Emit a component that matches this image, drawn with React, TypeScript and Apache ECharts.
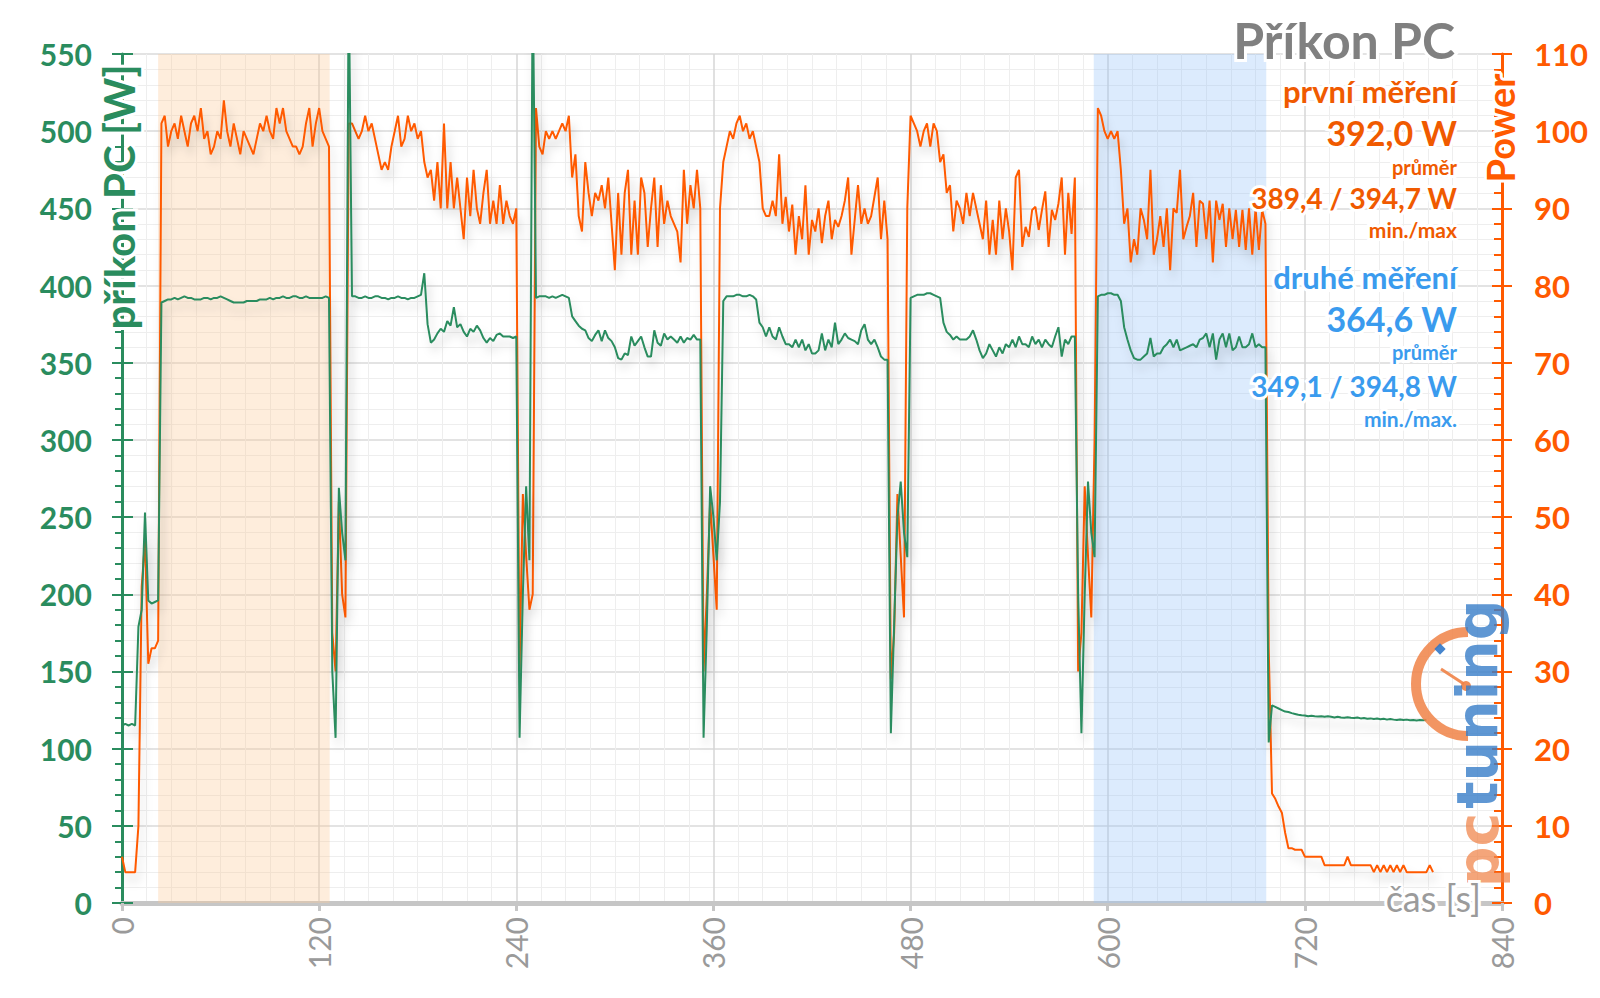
import React, { useEffect, useRef } from "react";
import * as echarts from "echarts";

// sample spacing of the measurement, seconds
const STEP = 2;

// ---- orange series: "Power" (right axis, %) ----
const orangeA = [6, 4, 4, 4, 4, 10, 41, 47, 31, 33, 33, 34];
const orangeB = [101, 102, 98, 100, 101, 99, 102, 100, 98, 101, 102, 100, 103, 99, 100, 97, 98, 100, 99, 104, 100, 98, 101, 99, 97, 100, 99, 98, 97, 99, 101, 100, 102, 100, 99, 103, 101, 103, 100, 99, 98, 98, 97, 98, 101, 103, 98, 101, 103, 100, 99, 98];
const orangeC = [35, 30, 52, 40, 37, 101];
const orangeD = [101, 100, 99, 100, 102, 100, 101, 99, 97, 95, 96, 95, 98, 100, 102, 98, 99, 102, 100, 101, 99, 100, 96, 94, 95, 91, 96, 90, 101, 90, 96, 90, 94, 90, 86, 94, 89, 95, 90, 88, 92, 95, 88, 91, 88, 93, 88, 91, 89, 88, 90];
const orangeE = [30, 53, 45, 38, 40];
const orangeF = [103, 98, 97, 100, 99, 100, 99, 100, 101, 100, 102, 94, 97, 89, 87, 96, 92, 89, 92, 91, 93, 90, 94, 88, 82, 92, 84, 92, 95, 84, 91, 84, 94, 92, 85, 90, 94, 85, 93, 88, 91, 89, 88, 87, 83, 95, 88, 93, 90, 95, 90];
const orangeG = [30, 40, 52, 45, 38, 90];
const orangeH = [96, 98, 100, 99, 101, 102, 100, 101, 99, 100, 98, 96, 90, 89, 89, 91, 89, 97, 88, 91.5, 87, 90.5, 84, 89, 86, 93, 84, 88.5, 87, 90, 85.5, 89, 91, 86, 88.5, 87.6, 89, 91, 94, 84, 88.5, 93, 88, 90, 88, 89, 91.5, 94, 86, 91, 86];
const orangeI = [29, 35, 53, 45, 37, 90];
const orangeJ = [102, 101, 100, 98, 100, 101, 98, 101, 100, 96, 97, 92, 93, 87, 91, 90, 88, 92, 89, 92, 90, 88, 86, 91, 84, 88.5, 84, 91, 86, 90, 87, 82, 94, 95, 85, 87.6, 86.3, 89.8, 90.2, 87.2, 89.8, 92.2, 85, 89.8, 88.5, 90.6, 94, 84, 92, 86.7, 94];
const orangeK = [30, 35, 54, 45, 37, 60];
const orangeL = [103, 102, 100, 99, 100, 99, 100, 95, 88, 90, 83, 86, 84, 90, 88.5, 86, 95, 84, 86, 89, 85, 90, 82, 90, 89.4, 95, 86, 87.6, 89, 92, 85, 91, 90.6, 86, 91, 83, 91, 88.5, 90.6, 85, 90, 86, 89.8, 85, 89.8, 84.6, 90, 84, 90, 84.6, 89.8];
const orangeM = [88, 33, 14.2, 13.5, 12.5, 11.7, 9.1, 7.1, 7.1, 6.9, 6.9, 6.9, 6, 6, 6, 6, 6, 6, 4.9, 4.9, 4.9, 4.9, 4.9, 4.9, 4.9, 6, 4.9, 4.9, 4.9, 4.9, 4.9, 4.9, 4.9, 4, 4.9, 4, 4.9, 4, 4.9, 4, 4.9, 4, 4.9, 4, 4, 4, 4, 4, 4, 4, 4.9, 4];

// ---- green series: "příkon PC [W]" (left axis) ----
const greenA = [115, 116, 115, 116, 115, 179, 190, 253, 196, 194, 195, 196];
const greenB = [389, 390, 391, 391, 392, 391, 392, 393, 392, 392, 391, 391, 391, 392, 392, 391, 392, 392, 393, 392, 391, 390, 389, 389, 389, 389, 390, 390, 390, 390, 391, 391, 391, 392, 391, 392, 392, 393, 392, 392, 393, 393, 392, 392, 393, 392, 392, 392, 392, 392, 393, 392];
const greenC = [150, 107, 269, 240, 222, 600];
const greenD = [393, 393, 392, 392, 393, 392, 392, 393, 393, 392, 392, 391, 392, 392, 393, 392, 392, 391, 392, 392, 393, 394, 408, 375, 363, 365, 369, 372, 370, 377, 374, 386, 373, 375, 370, 367, 372, 370, 374, 371, 366, 363, 366, 364, 368, 369, 367, 367, 367, 366, 367];
const greenE = [107, 200, 270, 222, 600];
const greenF = [392, 393, 393, 393, 392, 393, 392, 393, 394, 393, 392, 380, 377, 374, 372, 371, 366, 364, 368, 371, 364, 371, 366, 364, 360, 353, 352, 356, 355, 367, 361, 364, 367, 360, 354, 354, 371, 363, 361, 369, 365, 367, 365, 363, 367, 363, 366, 365, 368, 365, 365];
const greenG = [107, 180, 270, 250, 222, 260];
const greenH = [390, 393, 393, 393, 394, 394, 393, 393, 394, 393, 391, 376, 373, 367, 373, 367, 365, 373, 367, 362, 362, 360, 365, 360, 365, 358, 362, 356, 356, 358, 369, 358, 365, 360, 376, 362, 365, 369, 366, 365, 364, 362, 371, 375, 365, 362, 365, 360, 354, 352, 352];
const greenI = [110, 180, 250, 273, 240, 224];
const greenJ = [392, 393, 394, 394, 394, 395, 395, 394, 393, 392, 376, 370, 368, 365, 367, 365, 365, 365, 367, 371, 365, 358, 353, 356, 362, 358, 354, 360, 356, 362, 360, 365, 360, 367, 362, 362, 360, 367, 362, 365, 360, 365, 362, 360, 367, 373, 354, 365, 362, 367, 367];
const greenK = [200, 110, 200, 273, 240, 224];
const greenL = [393, 394, 394, 395, 395, 394, 394, 390, 373, 365, 358, 353, 352, 352, 354, 356, 366, 354, 356, 356, 360, 362, 365, 360, 365, 358, 359, 360, 361, 362, 360, 365, 366, 369, 360, 369, 352, 365, 369, 360, 369, 358, 360, 367, 360, 360, 362, 369, 360, 362, 360];
const greenM = [360, 104, 128, 127, 126, 125, 124, 123.7, 123, 122.5, 122, 121.6, 121.5, 121, 121.3, 121, 120.8, 121, 120.6, 121, 120.6, 120.2, 120.6, 120.2, 120, 120.4, 120, 119.8, 120.2, 119.6, 119.8, 119.4, 119.6, 119.2, 119.5, 119, 119.3, 118.8, 119.2, 118.8, 118.5, 118.9, 118.5, 118.8, 118.4, 118.6, 118.3, 118.6, 118.4, 118.5];

const powerValues = [...orangeA, ...orangeB, ...orangeC, ...orangeD, ...orangeE, ...orangeF, ...orangeG, ...orangeH, ...orangeI, ...orangeJ, ...orangeK, ...orangeL, ...orangeM];
const pcValues = [...greenA, ...greenB, ...greenC, ...greenD, ...greenE, ...greenF, ...greenG, ...greenH, ...greenI, ...greenJ, ...greenK, ...greenL, ...greenM];

// highlighted intervals (s)
const firstRun = [22, 126.4];
const secondRun = [591.5, 696.5];

// texts
const titleText = "Příkon PC";
const firstLabel = "první měření";
const firstAvg = "392,0 W";
const firstMinMax = "389,4 / 394,7 W";
const secondLabel = "druhé měření";
const secondAvg = "364,6 W";
const secondMinMax = "349,1 / 394,8 W";

const GREEN = "#2a8c5e";
const ORANGE = "#ff5a00";
const ORANGE_T = "#f05a00";
const BLUE = "#3a9bee";
const FONT = "Lato, 'Open Sans', sans-serif";

function txt(text: string, x: number, y: number, size: number, color: string, weight = "bold") {
  return {
    type: "text",
    x,
    y,
    z: 30,
    style: {
      text,
      align: "right",
      verticalAlign: "middle",
      font: `${weight} ${size}px ${FONT}`,
      fill: color,
      stroke: "#ffffff",
      lineWidth: 6,
      strokeFirst: true,
    },
  };
}

export default function App() {
  const ref = useRef<HTMLDivElement>(null);
  useEffect(() => {
    if (!ref.current) return;
    const chart = echarts.init(ref.current, undefined, { renderer: "svg" });
    const lineShadow = {
      shadowColor: "rgba(0,0,0,0.18)",
      shadowBlur: 10,
      shadowOffsetX: 3,
      shadowOffsetY: 8,
    };
    const option: any = {
      animation: false,
      backgroundColor: "#ffffff",
      grid: { left: 122, right: 98, top: 54, bottom: 95, containLabel: false },
      xAxis: {
        type: "value",
        min: 0,
        max: 840,
        interval: 120,
        axisLine: { show: true, onZero: false, lineStyle: { color: "#c6c6c6", width: 5 } },
        axisTick: { show: true, length: 8, lineStyle: { color: "#c6c6c6", width: 3 } },
        minorTick: { show: false, splitNumber: 8 },
        axisLabel: { rotate: 90, color: "#9a9a9a", fontSize: 30, fontFamily: FONT, margin: 14 },
        splitLine: { show: true, lineStyle: { color: "#d6d6d6", width: 1.5 } },
        minorSplitLine: { show: true, lineStyle: { color: "#eeeeee", width: 1 } },
      },
      yAxis: [
        {
          type: "value",
          position: "left",
          min: 0,
          max: 550,
          interval: 50,
          axisLine: { show: true, lineStyle: { color: GREEN, width: 3 } },
          axisTick: { show: true, length: 10, lineStyle: { color: GREEN, width: 2 } },
          minorTick: { show: true, splitNumber: 5, length: 7, lineStyle: { color: GREEN, width: 2 } },
          axisLabel: { color: GREEN, fontSize: 30, fontWeight: "bold", fontFamily: FONT, margin: 30 },
          splitLine: { show: true, lineStyle: { color: "#dadada", width: 1.5 } },
          minorSplitLine: { show: true, lineStyle: { color: "#eeeeee", width: 1 } },
        },
        {
          type: "value",
          position: "right",
          min: 0,
          max: 110,
          interval: 10,
          axisLine: { show: true, lineStyle: { color: ORANGE, width: 3 } },
          axisTick: { show: true, inside: true, length: 10, lineStyle: { color: ORANGE, width: 2 } },
          minorTick: { show: true, splitNumber: 5, length: 8, lineStyle: { color: ORANGE, width: 2 } },
          axisLabel: { color: ORANGE, fontSize: 31, fontWeight: "bold", fontFamily: FONT, margin: 32 },
          splitLine: { show: false },
        },
        {
          type: "value",
          position: "left",
          min: 0,
          max: 550,
          interval: 50,
          axisLine: { show: false },
          axisTick: { show: true, inside: true, length: 11, lineStyle: { color: GREEN, width: 2 } },
          axisLabel: { show: false },
          splitLine: { show: false },
        },
        {
          type: "value",
          position: "right",
          min: 0,
          max: 110,
          interval: 10,
          axisLine: { show: false },
          axisTick: { show: true, inside: false, length: 10, lineStyle: { color: ORANGE, width: 2 } },
          axisLabel: { show: false },
          splitLine: { show: false },
        },
      ],
      series: [
        {
          type: "line",
          name: "bands",
          data: [],
          z: 1,
          silent: true,
          markArea: {
            silent: true,
            data: [
              [{ xAxis: firstRun[0], itemStyle: { color: "rgba(252,200,150,0.33)" } }, { xAxis: firstRun[1] }],
              [{ xAxis: secondRun[0], itemStyle: { color: "rgba(150,195,250,0.33)" } }, { xAxis: secondRun[1] }],
            ],
          },
        },
        {
          type: "line",
          name: "Power",
          yAxisIndex: 1,
          data: powerValues.map((v, i) => [i * STEP, v]),
          showSymbol: false,
          symbol: "none",
          clip: true,
          z: 3,
          lineStyle: { color: ORANGE, width: 2, ...lineShadow },
        },
        {
          type: "line",
          name: "příkon PC",
          yAxisIndex: 0,
          data: pcValues.map((v, i) => [i * STEP, v]),
          showSymbol: false,
          symbol: "none",
          clip: true,
          z: 4,
          lineStyle: { color: GREEN, width: 2, ...lineShadow },
        },
      ],
      graphic: [
        {
          type: "text",
          x: 1455,
          y: 40,
          z: 30,
          style: {
            text: titleText,
            align: "right",
            verticalAlign: "middle",
            font: `bold 50px ${FONT}`,
            fill: "#808080",
            stroke: "#ffffff",
            lineWidth: 6,
            strokeFirst: true,
          },
        },
        txt(firstLabel, 1457, 91, 31, ORANGE_T),
        txt(firstAvg, 1457, 132.5, 34, ORANGE_T),
        txt("průměr", 1457, 167, 20, ORANGE_T),
        txt(firstMinMax, 1457, 197.5, 28, ORANGE_T),
        txt("min./max", 1457, 229, 21, ORANGE_T),
        txt(secondLabel, 1457, 276.5, 31, BLUE),
        txt(secondAvg, 1457, 318, 34, BLUE),
        txt("průměr", 1457, 352, 20, BLUE),
        txt(secondMinMax, 1457, 386, 28, BLUE),
        txt("min./max.", 1457, 418, 21, BLUE),
        txt("čas [s]", 1481, 898, 36, "#9b9b9b", "normal"),
        {
          type: "text",
          x: 119,
          y: 197,
          z: 30,
          rotation: Math.PI / 2,
          style: {
            text: "příkon PC [W]",
            align: "center",
            verticalAlign: "middle",
            font: `bold 42px ${FONT}`,
            fill: GREEN,
            stroke: "#ffffff",
            lineWidth: 6,
            strokeFirst: true,
          },
        },
        {
          type: "text",
          x: 1500,
          y: 128,
          z: 30,
          rotation: Math.PI / 2,
          style: {
            text: "Power",
            align: "center",
            verticalAlign: "middle",
            font: `bold 38px ${FONT}`,
            fill: ORANGE,
            stroke: "#ffffff",
            lineWidth: 6,
            strokeFirst: true,
          },
        },
        // pctuning logo
        {
          type: "group",
          z: 25,
          children: [
            {
              type: "arc",
              z: 25,
              shape: { cx: 1468, cy: 684, r: 52, startAngle: Math.PI / 2, endAngle: (3 * Math.PI) / 2, clockwise: true },
              style: { stroke: "rgba(240,130,70,0.85)", lineWidth: 10, fill: "none" },
            },
            {
              type: "rect",
              z: 26,
              x: 1440,
              y: 649,
              rotation: Math.PI / 4,
              shape: { x: -4, y: -4, width: 8, height: 8 },
              style: { fill: "rgba(50,120,200,0.9)" },
            },
            {
              type: "line",
              z: 26,
              shape: { x1: 1441, y1: 669, x2: 1464, y2: 684 },
              style: { stroke: "rgba(240,130,70,0.9)", lineWidth: 3 },
            },
            {
              type: "circle",
              z: 26,
              shape: { cx: 1466, cy: 686, r: 5 },
              style: { fill: "rgba(240,130,70,0.9)" },
            },
            {
              type: "text",
              x: 1477,
              y: 704,
              z: 27,
              rotation: Math.PI / 2,
              style: {
                text: "tuning",
                align: "center",
                verticalAlign: "middle",
                font: "bold 57px 'DejaVu Sans', sans-serif",
                fill: "rgba(55,125,200,0.8)",
              },
            },
            {
              type: "text",
              x: 1478,
              y: 850,
              z: 27,
              rotation: Math.PI / 2,
              style: {
                text: "pc",
                align: "center",
                verticalAlign: "middle",
                font: "bold 57px 'DejaVu Sans', sans-serif",
                fill: "rgba(240,130,70,0.72)",
              },
            },
          ],
        },
      ],
    };
    chart.setOption(option);
    return () => chart.dispose();
  }, []);
  return (
    <div
      ref={ref}
      style={{ position: "absolute", left: 0, top: 0, width: 1600, height: 998, background: "#ffffff" }}
    />
  );
}
